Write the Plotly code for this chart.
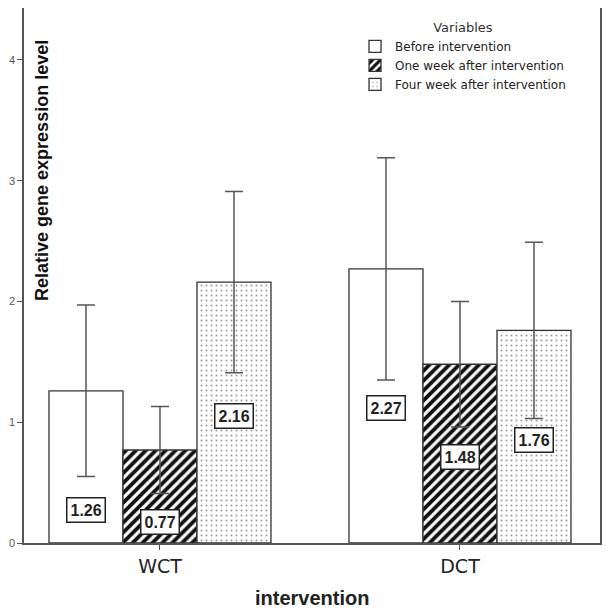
import plotly.graph_objects as go

groups = ["WCT", "DCT"]
series = ["Before intervention", "One week after intervention", "Four week after intervention"]
means = {
    "Before intervention": [1.26, 2.27],
    "One week after intervention": [0.77, 1.48],
    "Four week after intervention": [2.16, 1.76],
}
errors = {
    "Before intervention": [0.71, 0.92],
    "One week after intervention": [0.36, 0.52],
    "Four week after intervention": [0.75, 0.73],
}
# where the boxed value labels sit (data y)
label_y = {
    "Before intervention": [0.27, 1.12],
    "One week after intervention": [0.17, 0.71],
    "Four week after intervention": [1.05, 0.85],
}

patterns = {
    "Before intervention": dict(shape=""),
    "One week after intervention": dict(shape="/", fgcolor="#111", bgcolor="white",
                                        size=7, solidity=0.55, fillmode="replace"),
    "Four week after intervention": dict(shape=".", fgcolor="#9a9a9a", bgcolor="white",
                                         size=5, solidity=0.12, fillmode="replace"),
}

fig = go.Figure()
for s in series:
    fig.add_trace(go.Bar(
        x=groups,
        y=means[s],
        name=s,
        marker=dict(color="white", pattern=patterns[s], line=dict(color="#333", width=1.3)),
        error_y=dict(type="data", array=errors[s], color="#555", thickness=1.5, width=9),
    ))

offsets = [-0.2467, 0.0, 0.2467]
annotations = []
for k, s in enumerate(series):
    for i, g in enumerate(groups):
        annotations.append(dict(
            x=i + offsets[k], y=label_y[s][i], xref="x", yref="y",
            text=f"{means[s][i]:.2f}", showarrow=False,
            font=dict(family="Arial", size=16, color="#222", weight="bold"),
            bgcolor="white", bordercolor="#222", borderwidth=1.5, borderpad=3,
        ))

annotations.append(dict(
    x=0.031, y=0.697, xref="paper", yref="paper", textangle=-90,
    xanchor="center", yanchor="middle",
    text="Relative gene expression level", showarrow=False,
    font=dict(family="Arial", size=18, color="#111", weight="bold"),
))
annotations.append(dict(
    x=0.5, y=-0.103, xref="paper", yref="paper", yanchor="middle",
    text="intervention", showarrow=False,
    font=dict(family="Arial", size=20, color="#222", weight="bold"),
))

# page body adds an 8px offset, so the figure is slightly smaller than the window
fig.update_layout(
    width=604, height=606,
    margin=dict(l=16, r=12, t=0, b=71),
    paper_bgcolor="white", plot_bgcolor="white",
    barmode="group", bargap=0.26, bargroupgap=0,
    showlegend=True,
    legend=dict(
        x=0.5747, y=0.987, xanchor="left", yanchor="top",
        title=dict(text="Variables", side="top center",
                   font=dict(family="DejaVu Sans", size=13, color="#333")),
        font=dict(family="DejaVu Sans", size=12, color="#222"),
        bgcolor="rgba(0,0,0,0)", tracegroupgap=0, itemwidth=30,
    ),
    annotations=annotations,
    xaxis=dict(
        range=[-0.4533, 1.4667], showgrid=False, zeroline=False, automargin=False,
        showline=True, mirror=True, linecolor="#555", linewidth=1.5,
        ticks="outside", ticklen=5, tickcolor="#555",
        tickfont=dict(family="DejaVu Sans", size=19, color="#222"),
    ),
    yaxis=dict(
        range=[0, 4.43], tickvals=[0, 1, 2, 3, 4], showgrid=False, zeroline=False,
        automargin=False,
        showline=True, mirror=True, linecolor="#555", linewidth=1.5,
        ticks="outside", ticklen=5, tickcolor="#555",
        tickfont=dict(family="Arial", size=11, color="#555"),
    ),
)

fig.write_html("out.html")
